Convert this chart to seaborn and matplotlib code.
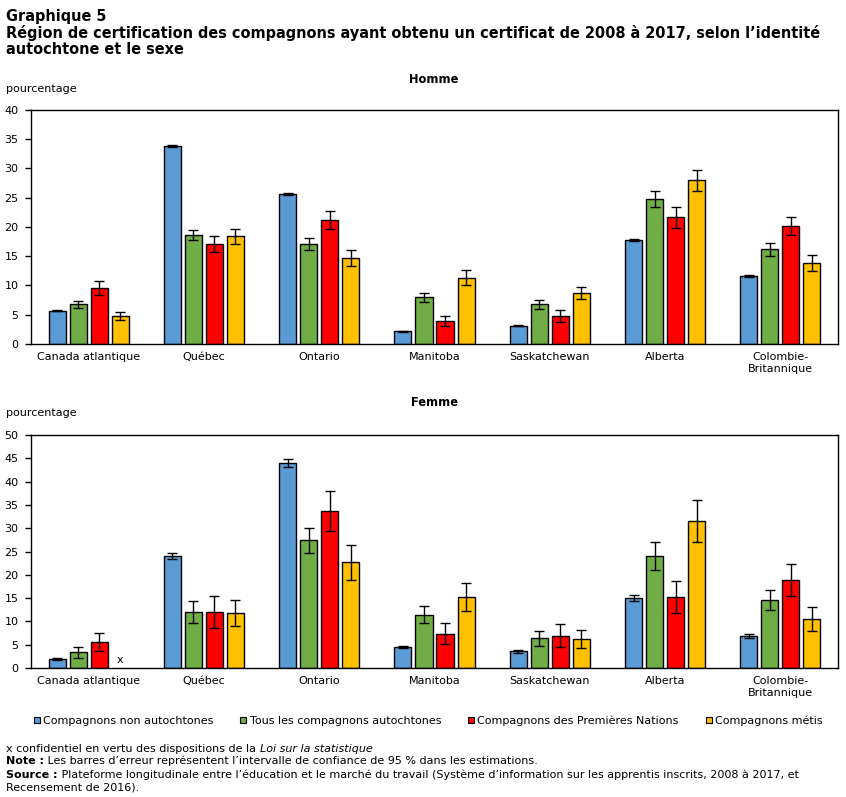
import numpy as np
import pandas as pd
import matplotlib
matplotlib.use("Agg")
import matplotlib.pyplot as plt
from matplotlib.lines import Line2D
import seaborn as sns

# ---------------- data ----------------
regions = ["Canada atlantique", "Québec", "Ontario", "Manitoba", "Saskatchewan",
           "Alberta", "Colombie-\nBritannique"]
series = ["Compagnons non autochtones", "Tous les compagnons autochtones",
          "Compagnons des Premières Nations", "Compagnons métis"]
colors = ["#5B9BD5", "#70AD47", "#FF0000", "#FFC000"]

homme_non = [5.7, 33.8, 25.6, 2.2, 3.1, 17.8, 11.6]
homme_non_err = [0.1, 0.2, 0.15, 0.1, 0.1, 0.2, 0.15]
homme_tous = [6.8, 18.6, 17.1, 8.0, 6.8, 24.8, 16.2]
homme_tous_err = [0.6, 0.9, 1.1, 0.8, 0.8, 1.35, 1.1]
homme_pn = [9.5, 17.1, 21.2, 4.0, 4.8, 21.7, 20.1]
homme_pn_err = [1.2, 1.4, 1.6, 0.85, 1.0, 1.8, 1.55]
homme_met = [4.8, 18.4, 14.7, 11.3, 8.7, 28.0, 13.8]
homme_met_err = [0.7, 1.3, 1.4, 1.3, 1.0, 1.8, 1.35]

femme_non = [1.9, 24.0, 43.9, 4.5, 3.6, 15.0, 6.9]
femme_non_err = [0.2, 0.6, 0.85, 0.3, 0.35, 0.65, 0.43]
femme_tous = [3.4, 12.0, 27.4, 11.4, 6.4, 24.0, 14.6]
femme_tous_err = [1.15, 2.3, 2.7, 1.8, 1.6, 3.0, 2.2]
femme_pn = [5.6, 12.0, 33.6, 7.3, 6.9, 15.2, 18.9]
femme_pn_err = [2.0, 3.5, 4.3, 2.25, 2.5, 3.4, 3.5]
femme_met = [np.nan, 11.8, 22.7, 15.2, 6.2, 31.5, 10.5]
femme_met_err = [np.nan, 2.8, 3.8, 3.0, 2.0, 4.5, 2.6]

homme_ticks = [0, 5, 10, 15, 20, 25, 30, 35, 40]
femme_ticks = [0, 5, 10, 15, 20, 25, 30, 35, 40, 45, 50]

# ---------------- style ----------------
sns.set_theme(style="white")
plt.rcParams["font.family"] = ["DejaVu Sans"]
plt.rcParams["text.color"] = "black"

W, H = 846, 797
fig = plt.figure(figsize=(W / 100, H / 100), dpi=100)


def px_axes(left, top, right, bottom):
    return fig.add_axes([left / W, 1 - bottom / H, (right - left) / W, (bottom - top) / H])


def make_df(vals, errs):
    rows = []
    for s, v, e in zip(series, vals, errs):
        for r, vv, ee in zip(regions, v, e):
            rows.append({"region": r, "series": s, "value": vv, "err": ee})
    return pd.DataFrame(rows)


def panel(ax, df, ticks):
    sns.barplot(data=df, x="region", y="value", hue="series", order=regions,
                hue_order=series, palette=colors, edgecolor="black", linewidth=1.0,
                width=0.73, gap=0.19, errorbar=None, legend=False, ax=ax, saturation=1)
    bar_containers = list(ax.containers)
    for i, cont in enumerate(bar_containers):
        sub = df[df["series"] == series[i]].set_index("region")
        for bar in cont:
            cx = bar.get_x() + bar.get_width() / 2
            h = bar.get_height()
            if not np.isfinite(h):
                continue
            reg = regions[int(round(cx))]
            e = sub.loc[reg, "err"]
            ax.errorbar(cx, h, yerr=e, fmt="none", ecolor="black", elinewidth=1.0,
                        capsize=3.3, capthick=1.0, zorder=5)
    ax.set_ylim(ticks[0], ticks[-1])
    ax.set_yticks(ticks)
    ax.set_xlim(-0.5, len(regions) - 0.5)
    ax.set_xlabel("")
    ax.set_ylabel("")
    for sp in ax.spines.values():
        sp.set_visible(True)
        sp.set_color("black")
        sp.set_linewidth(1.0)
    ax.tick_params(axis="y", left=True, length=4, width=1, pad=5, labelsize=8,
                   colors="black", direction="out")
    ax.tick_params(axis="x", bottom=False, length=0, pad=6, labelsize=8, colors="black")
    ax.grid(False)
    return bar_containers


ax1 = px_axes(31, 110, 838, 344)
panel(ax1, make_df([homme_non, homme_tous, homme_pn, homme_met],
                   [homme_non_err, homme_tous_err, homme_pn_err, homme_met_err]), homme_ticks)

ax2 = px_axes(31, 435, 838, 668)
df_f = make_df([femme_non, femme_tous, femme_pn, femme_met],
               [femme_non_err, femme_tous_err, femme_pn_err, femme_met_err])
conts2 = panel(ax2, df_f, femme_ticks)

# "x" for the confidential value: placed at the slot of the missing bar
yellow = conts2[3]
ref_bar = [b for b in yellow if np.isfinite(b.get_height())][0]
ref_cx = ref_bar.get_x() + ref_bar.get_width() / 2
offset = ref_cx - round(ref_cx)
for k, v in enumerate(femme_met):
    if not np.isfinite(v):
        ax2.text(k + offset, 0.6, "x", ha="center", va="bottom", fontsize=8)

# ---------------- texts ----------------
renderer = fig.canvas.get_renderer()


def runs(x_px, y_px, parts, size):
    x = x_px
    for txt, weight, style in parts:
        t = fig.text(x / W, 1 - y_px / H, txt, fontsize=size, fontweight=weight,
                     fontstyle=style, ha="left", va="baseline")
        x += t.get_window_extent(renderer).width


# title: fit the long line into the same width as in the reference
title_line = "Région de certification des compagnons ayant obtenu un certificat de 2008 à 2017, selon l’identité"
t2 = fig.text(6 / W, 1 - 37.7 / H, title_line, fontsize=11.2, fontweight="bold",
              ha="left", va="baseline")
w = t2.get_window_extent(renderer).width
tsize = 11.2 * 810.0 / w
t2.set_fontsize(tsize)
fig.text(6 / W, 1 - 20.7 / H, "Graphique 5", fontsize=tsize, fontweight="bold",
         ha="left", va="baseline")
fig.text(6 / W, 1 - 54.5 / H, "autochtone et le sexe", fontsize=tsize, fontweight="bold",
         ha="left", va="baseline")

fig.text(434 / W, 1 - 82.7 / H, "Homme", fontsize=8.3, fontweight="bold", ha="center", va="baseline")
fig.text(6 / W, 1 - 92.3 / H, "pourcentage", fontsize=8, ha="left", va="baseline")
fig.text(434 / W, 1 - 406 / H, "Femme", fontsize=8.3, fontweight="bold", ha="center", va="baseline")
fig.text(6 / W, 1 - 416 / H, "pourcentage", fontsize=8, ha="left", va="baseline")

handles = [Line2D([], [], marker="s", linestyle="none", markersize=5, markerfacecolor=c,
                  markeredgecolor="black", markeredgewidth=0.8) for c in colors]
fig.legend(handles, series, loc="center", bbox_to_anchor=(428 / W, 1 - 721 / H), ncol=4,
           frameon=False, fontsize=8, handlelength=0.6, handletextpad=0.25,
           columnspacing=2.4, borderaxespad=0)

runs(6, 751.7, [("x confidentiel en vertu des dispositions de la ", "normal", "normal"),
                ("Loi sur la statistique", "normal", "italic")], 8)
runs(6, 764.5, [("Note :", "bold", "normal"),
                (" Les barres d’erreur représentent l’intervalle de confiance de 95 % dans les estimations.",
                 "normal", "normal")], 8)
runs(6, 777.5, [("Source :", "bold", "normal"),
                (" Plateforme longitudinale entre l’éducation et le marché du travail (Système d’information sur les apprentis inscrits, 2008 à 2017, et",
                 "normal", "normal")], 8)
runs(6, 790.5, [("Recensement de 2016).", "normal", "normal")], 8)

fig.savefig("out.png", dpi=100)
